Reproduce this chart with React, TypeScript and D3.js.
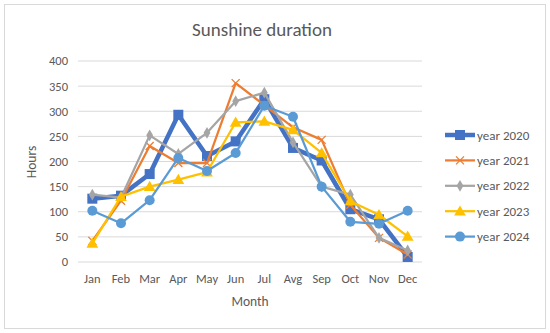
import React, { useEffect, useRef } from 'react';
import * as d3 from 'd3';

const months = ['Jan', 'Feb', 'Mar', 'Apr', 'May', 'Jun', 'Jul', 'Avg', 'Sep', 'Oct', 'Nov', 'Dec'];
const yTicks = [0, 50, 100, 150, 200, 250, 300, 350, 400];

const year2020 = [126, 132, 175, 293, 211, 240, 324, 227, 202, 105, 85, 10];
const year2021 = [42, 122, 231, 197, 197, 356, 312, 268, 243, 114, 48, 15];
const year2022 = [134, 128, 252, 215, 257, 320, 337, 238, 150, 134, 48, 23];
const year2023 = [37, 130, 150, 164, 179, 278, 280, 263, 217, 121, 94, 51];
const year2024 = [102, 77, 123, 207, 181, 217, 311, 289, 150, 80, 76, 102];

type Marker = 'square' | 'x' | 'diamond' | 'triangle' | 'circle';

interface Series {
  name: string;
  values: number[];
  color: string;
  width: number;
  marker: Marker;
}

const series: Series[] = [
  { name: 'year 2020', values: year2020, color: '#4472C4', width: 4.5, marker: 'square' },
  { name: 'year 2021', values: year2021, color: '#ED7D31', width: 2.25, marker: 'x' },
  { name: 'year 2022', values: year2022, color: '#A5A5A5', width: 2.25, marker: 'diamond' },
  { name: 'year 2023', values: year2023, color: '#FFC000', width: 2.25, marker: 'triangle' },
  { name: 'year 2024', values: year2024, color: '#5B9BD5', width: 2.25, marker: 'circle' },
];

const FONT = 'Carlito, Calibri, Lato, sans-serif';

function drawMarker(g: d3.Selection<SVGGElement, unknown, null, undefined>, s: Series, x: number, y: number) {
  if (s.marker === 'square') {
    g.append('rect').attr('x', x - 5).attr('y', y - 5).attr('width', 10).attr('height', 10).attr('fill', s.color);
  } else if (s.marker === 'x') {
    g.append('path')
      .attr('d', `M${x - 4},${y - 4}L${x + 4},${y + 4}M${x - 4},${y + 4}L${x + 4},${y - 4}`)
      .attr('stroke', s.color).attr('stroke-width', 1.3).attr('fill', 'none');
  } else if (s.marker === 'diamond') {
    g.append('path').attr('d', d3.symbol(d3.symbolDiamond, 40)()).attr('transform', `translate(${x},${y})`).attr('fill', s.color);
  } else if (s.marker === 'triangle') {
    g.append('path').attr('d', d3.symbol(d3.symbolTriangle, 60)()).attr('transform', `translate(${x},${y + 1})`).attr('fill', s.color);
  } else {
    g.append('circle').attr('cx', x).attr('cy', y).attr('r', 5).attr('fill', s.color);
  }
}

export default function App() {
  const svgRef = useRef<SVGSVGElement>(null);

  useEffect(() => {
    if (!svgRef.current) return;
    const W = 550, H = 333;
    const margin = { top: 61, right: 128, bottom: 71, left: 78 };

    const svg = d3.select(svgRef.current);
    svg.selectAll('*').remove();
    svg.attr('width', W).attr('height', H);

    svg.append('rect').attr('width', W).attr('height', H).attr('fill', '#fff');
    svg.append('rect').attr('x', 4.5).attr('y', 4.5).attr('width', 541).attr('height', 324)
      .attr('fill', '#fff').attr('stroke', '#d9d9d9').attr('stroke-width', 1);

    const x = d3.scaleBand().domain(months).range([margin.left, W - margin.right]);
    const y = d3.scaleLinear().domain([0, 400]).range([H - margin.bottom, margin.top]);

    // gridlines
    svg.append('g')
      .selectAll('line')
      .data(yTicks)
      .enter()
      .append('line')
      .attr('x1', margin.left).attr('x2', W - margin.right)
      .attr('y1', d => y(d)).attr('y2', d => y(d))
      .attr('stroke', '#d9d9d9').attr('stroke-width', 1);

    // y ticks
    svg.append('g')
      .selectAll('text')
      .data(yTicks)
      .enter()
      .append('text')
      .attr('x', 68).attr('y', d => y(d)).attr('dy', '0.35em')
      .attr('text-anchor', 'end')
      .attr('fill', '#595959').style('font-family', FONT).style('font-size', '12.5px')
      .text(d => d);

    // x ticks
    svg.append('g')
      .selectAll('text')
      .data(months)
      .enter()
      .append('text')
      .attr('x', d => (x(d) || 0) + x.bandwidth() / 2).attr('y', 283)
      .attr('text-anchor', 'middle')
      .attr('fill', '#595959').style('font-family', FONT).style('font-size', '12.5px')
      .text(d => d);

    // axis titles
    svg.append('text').attr('x', 250).attr('y', 306).attr('text-anchor', 'middle')
      .attr('fill', '#595959').style('font-family', FONT).style('font-size', '13.5px').text('Month');
    svg.append('text').attr('transform', 'translate(36,162) rotate(-90)').attr('text-anchor', 'middle')
      .attr('fill', '#595959').style('font-family', FONT).style('font-size', '13.5px').text('Hours');

    // title
    svg.append('text').attr('x', 262).attr('y', 36).attr('text-anchor', 'middle')
      .attr('fill', '#595959').style('font-family', FONT).style('font-size', '19px').text('Sunshine duration');

    const cx = (i: number) => (x(months[i]) || 0) + x.bandwidth() / 2;
    const line = d3.line<number>().x((_, i) => cx(i)).y(d => y(d));

    series.forEach(s => {
      const g = svg.append('g');
      g.append('path').datum(s.values).attr('d', line)
        .attr('fill', 'none').attr('stroke', s.color).attr('stroke-width', s.width)
        .attr('stroke-linejoin', 'round');
      s.values.forEach((v, i) => drawMarker(g, s, cx(i), y(v)));
    });

    // legend
    series.forEach((s, i) => {
      const ly = 135 + i * 25.4;
      const g = svg.append('g');
      g.append('line').attr('x1', 445).attr('x2', 475).attr('y1', ly).attr('y2', ly)
        .attr('stroke', s.color).attr('stroke-width', s.width);
      drawMarker(g, s, 460, ly);
      g.append('text').attr('x', 477).attr('y', ly).attr('dy', '0.35em')
        .attr('fill', '#595959').style('font-family', FONT).style('font-size', '13px').text(s.name);
    });
  }, []);

  return <svg ref={svgRef} style={{ position: 'absolute', left: 0, top: 0 }} />;
}
